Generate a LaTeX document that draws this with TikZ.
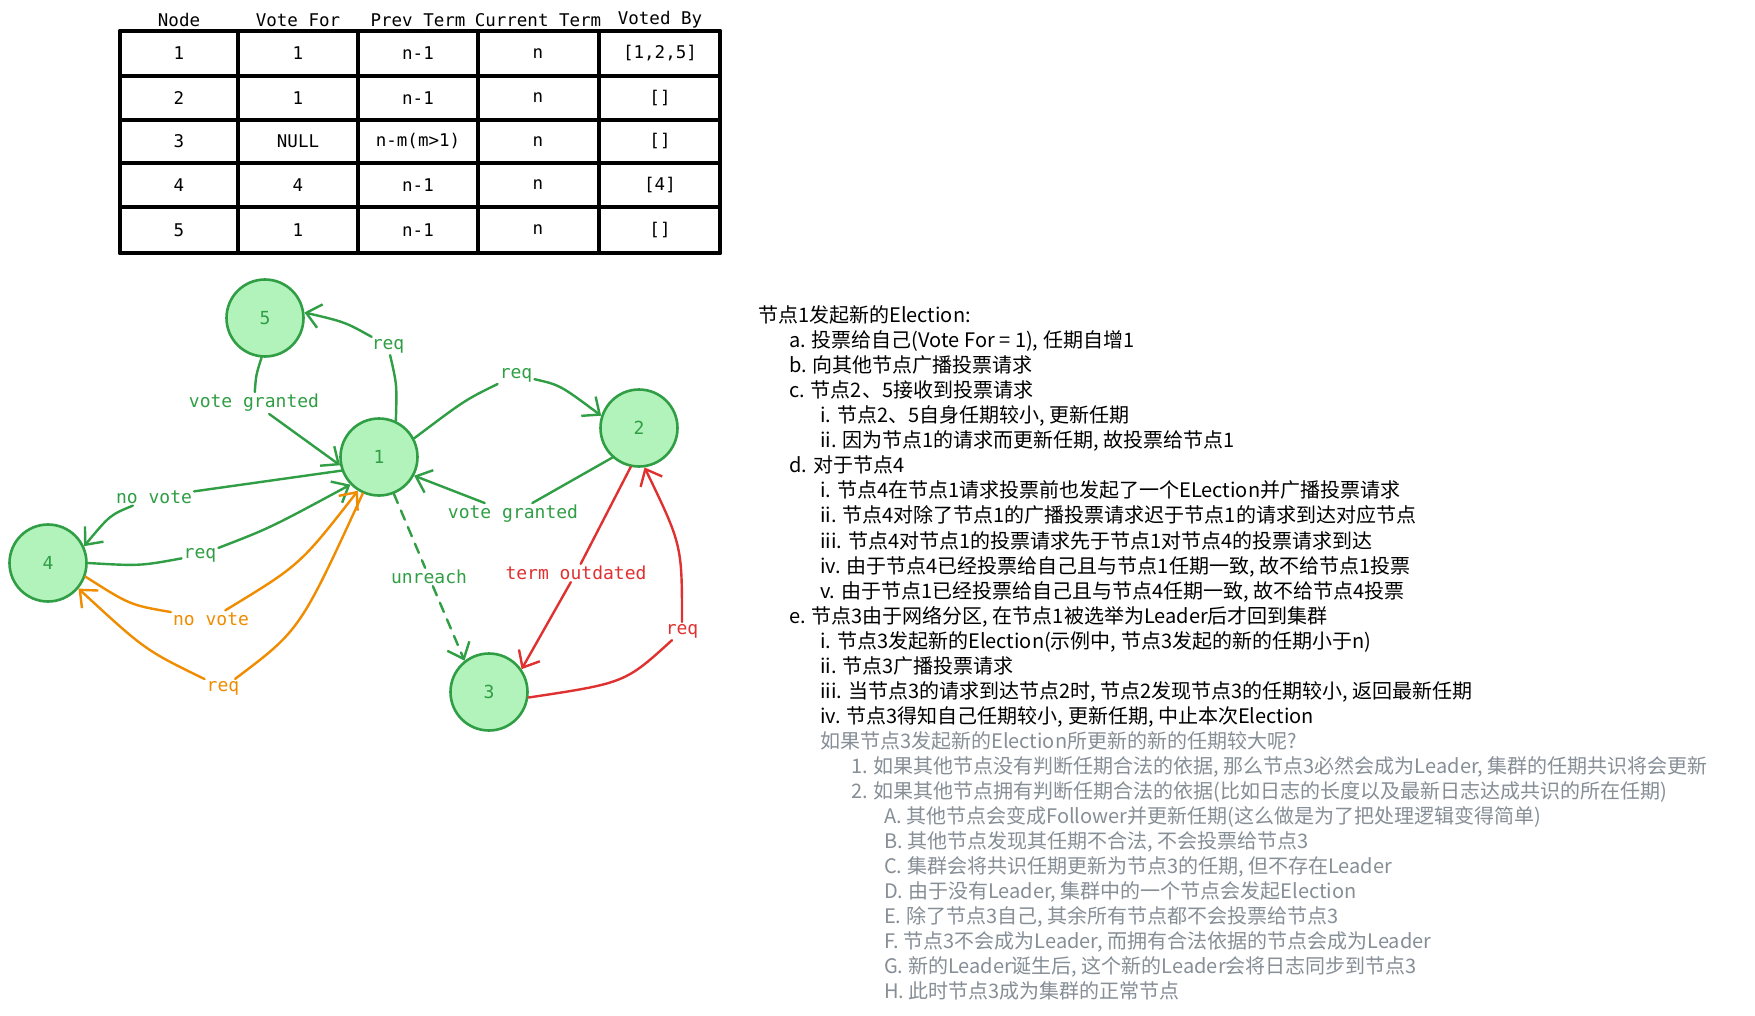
\documentclass[tikz,border=0pt]{standalone}
\usepackage{fontspec}
\usetikzlibrary{arrows.meta}
\newfontfamily\cjk{Noto Sans CJK SC}
\newfontfamily\monof{DejaVu Sans Mono}
\definecolor{gstroke}{HTML}{2F9E44}
\definecolor{gfill}{HTML}{B2F2BB}
\definecolor{ostroke}{HTML}{F08C00}
\definecolor{rstroke}{HTML}{E03131}
\definecolor{graytxt}{HTML}{868E96}
\begin{document}
\begin{tikzpicture}[x=1pt,y=-1pt,
  peer/.style={circle, draw=gstroke, fill=gfill, line width=2.6pt, minimum size=77pt, inner sep=0pt, text=gstroke, font=\monof\fontsize{18}{18}\selectfont},
  elabel/.style={fill=white, inner sep=2pt, font=\monof\fontsize{18}{18}\selectfont},
  glab/.style={elabel, text=gstroke},
  olab/.style={elabel, text=ostroke},
  rlab/.style={elabel, text=rstroke},
  gl/.style={draw=gstroke, line width=2.4pt, line cap=round},
  ol/.style={draw=ostroke, line width=2.4pt, line cap=round},
  rl/.style={draw=rstroke, line width=2.4pt, line cap=round},
  endarrow/.style={-{Straight Barb[length=14pt,width=24pt,line width=2.4pt]}},
  grid/.style={line width=4pt, line cap=round, line join=round},
  cell/.style={inner sep=0pt, font=\monof\fontsize{17.5}{17.5}\selectfont},
  txt/.style={anchor=base west, inner sep=0pt, font=\cjk\fontsize{20}{20}\selectfont},
  gtxt/.style={txt, text=graytxt},
]
\useasboundingbox (0,0) rectangle (1755,1016);
\fill[white] (0,0) rectangle (1755,1016);

% ---------- table ----------
\foreach \x in {120,238,358,478,599,720} \draw[grid] (\x,31) -- (\x,253);
\foreach \y in {31,76,120,163,207,253} \draw[grid] (120,\y) -- (720,\y);
\node[cell] (hd1) at (179,20) {Node};
\node[cell] (hd2) at (298,20) {Vote For};
\node[cell] (hd3) at (418,20) {Prev Term};
\node[cell] (hd4) at (538,20) {Current Term};
\node[cell] (hd5) at (660,20) {Voted By};
\node[cell] (r1a) at (179,53.5) {1};
\node[cell] (r1b) at (298,53.5) {1};
\node[cell] (r1c) at (418,53.5) {n-1};
\node[cell] (r1d) at (538,53.5) {n};
\node[cell] (r1e) at (660,53.5) {[1,2,5]};
\node[cell] (r2a) at (179,98) {2};
\node[cell] (r2b) at (298,98) {1};
\node[cell] (r2c) at (418,98) {n-1};
\node[cell] (r2d) at (538,98) {n};
\node[cell] (r2e) at (660,98) {[]};
\node[cell] (r3a) at (179,141.5) {3};
\node[cell] (r3b) at (298,141.5) {NULL};
\node[cell] (r3c) at (418,141.5) {n-m(m>1)};
\node[cell] (r3d) at (538,141.5) {n};
\node[cell] (r3e) at (660,141.5) {[]};
\node[cell] (r4a) at (179,185) {4};
\node[cell] (r4b) at (298,185) {4};
\node[cell] (r4c) at (418,185) {n-1};
\node[cell] (r4d) at (538,185) {n};
\node[cell] (r4e) at (660,185) {[4]};
\node[cell] (r5a) at (179,230) {5};
\node[cell] (r5b) at (298,230) {1};
\node[cell] (r5c) at (418,230) {n-1};
\node[cell] (r5d) at (538,230) {n};
\node[cell] (r5e) at (660,230) {[]};

% ---------- graph ----------
\node[peer] (n1) at (379,457) {1};
\node[peer] (n2) at (639,428) {2};
\node[peer] (n3) at (489,692) {3};
\node[peer] (n4) at (48,563) {4};
\node[peer] (n5) at (265,318) {5};

\node[glab] (l15) at (388,346) {req};
\node[glab] (l51) at (254,403) {vote granted};
\node[glab] (l12) at (516,375) {req};
\node[glab] (l21) at (513,514) {vote granted};
\node[glab] (l14) at (154,497) {no vote};
\node[glab] (l41) at (200,555) {req};
\node[olab] (lo41) at (211,619) {no vote};
\node[olab] (lo14) at (223,688) {req};
\node[glab] (l13) at (429,577) {unreach};
\node[rlab] (l23) at (576,573) {term outdated};
\node[rlab] (l32) at (682,631) {req};

% green
\draw[gl] (n1.65) .. controls (397,385) .. (l15);
\draw[gl,endarrow] (l15) .. controls (345,322) .. (n5.8);
\draw[gl] (n5.265) .. controls (256,375) .. (l51);
\draw[gl,endarrow] (l51) -- (n1.192);
\draw[gl] (n1.28) .. controls (465,400) .. (l12);
\draw[gl,endarrow] (l12) .. controls (560,385) .. (n2.162);
\draw[gl] (n2.228) -- (l21);
\draw[gl,endarrow] (l21) -- (n1.332);
\draw[gl] (n1.200) -- (l14);
\draw[gl,endarrow] (l14) .. controls (110,515) .. (n4.25);
\draw[gl] (n4.0) .. controls (140,566) .. (l41);
\draw[gl,endarrow] (l41) .. controls (270,528) .. (n1.224);
\draw[gl,dash pattern=on 10pt off 8pt] (n1.-68) -- (l13);
\draw[gl,dash pattern=on 10pt off 8pt,endarrow] (l13) -- (n3.128);
% orange
\draw[ol] (n4.-20) .. controls (130,605) .. (lo41);
\draw[ol,endarrow] (lo41) .. controls (300,565) .. (n1.238);
\draw[ol] (n1.246) .. controls (300,630) .. (lo14);
\draw[ol,endarrow] (lo14) .. controls (145,650) .. (n4.-40);
% red
\draw[rl] (n2.258) -- (l23);
\draw[rl,endarrow] (l23) -- (n3.35);
\draw[rl] (n3.-8) .. controls (625,683) .. (l32);
\draw[rl,endarrow] (l32) .. controls (682,545) .. (n2.-82);

% ---------- text ----------
\node[txt] (t0) at (758,322.6) {节点1发起新的Election:};
\node[txt] (t1) at (789,347.6) {a. 投票给自己(Vote For = 1), 任期自增1};
\node[txt] (t2) at (789,372.7) {b. 向其他节点广播投票请求};
\node[txt] (t3) at (789,397.7) {c. 节点2、5接收到投票请求};
\node[txt] (t4) at (820,422.8) {i. 节点2、5自身任期较小, 更新任期};
\node[txt] (t5) at (820,447.8) {ii. 因为节点1的请求而更新任期, 故投票给节点1};
\node[txt] (t6) at (789,472.8) {d. 对于节点4};
\node[txt] (t7) at (820,497.9) {i. 节点4在节点1请求投票前也发起了一个ELection并广播投票请求};
\node[txt] (t8) at (820,522.9) {ii. 节点4对除了节点1的广播投票请求迟于节点1的请求到达对应节点};
\node[txt] (t9) at (820,548.0) {iii. 节点4对节点1的投票请求先于节点1对节点4的投票请求到达};
\node[txt] (t10) at (820,573.0) {iv. 由于节点4已经投票给自己且与节点1任期一致, 故不给节点1投票};
\node[txt] (t11) at (820,598.0) {v. 由于节点1已经投票给自己且与节点4任期一致, 故不给节点4投票};
\node[txt] (t12) at (789,623.1) {e. 节点3由于网络分区, 在节点1被选举为Leader后才回到集群};
\node[txt] (t13) at (820,648.1) {i. 节点3发起新的Election(示例中, 节点3发起的新的任期小于n)};
\node[txt] (t14) at (820,673.2) {ii. 节点3广播投票请求};
\node[txt] (t15) at (820,698.2) {iii. 当节点3的请求到达节点2时, 节点2发现节点3的任期较小, 返回最新任期};
\node[txt] (t16) at (820,723.2) {iv. 节点3得知自己任期较小, 更新任期, 中止本次Election};
\node[gtxt] (t17) at (820,748.3) {如果节点3发起新的Election所更新的新的任期较大呢?};
\node[gtxt] (t18) at (851,773.3) {1. 如果其他节点没有判断任期合法的依据, 那么节点3必然会成为Leader, 集群的任期共识将会更新};
\node[gtxt] (t19) at (851,798.4) {2. 如果其他节点拥有判断任期合法的依据(比如日志的长度以及最新日志达成共识的所在任期)};
\node[gtxt] (t20) at (884,823.4) {A. 其他节点会变成Follower并更新任期(这么做是为了把处理逻辑变得简单)};
\node[gtxt] (t21) at (884,848.4) {B. 其他节点发现其任期不合法, 不会投票给节点3};
\node[gtxt] (t22) at (884,873.5) {C. 集群会将共识任期更新为节点3的任期, 但不存在Leader};
\node[gtxt] (t23) at (884,898.5) {D. 由于没有Leader, 集群中的一个节点会发起Election};
\node[gtxt] (t24) at (884,923.6) {E. 除了节点3自己, 其余所有节点都不会投票给节点3};
\node[gtxt] (t25) at (884,948.6) {F. 节点3不会成为Leader, 而拥有合法依据的节点会成为Leader};
\node[gtxt] (t26) at (884,973.6) {G. 新的Leader诞生后, 这个新的Leader会将日志同步到节点3};
\node[gtxt] (t27) at (884,998.7) {H. 此时节点3成为集群的正常节点};
\end{tikzpicture}
\end{document}
